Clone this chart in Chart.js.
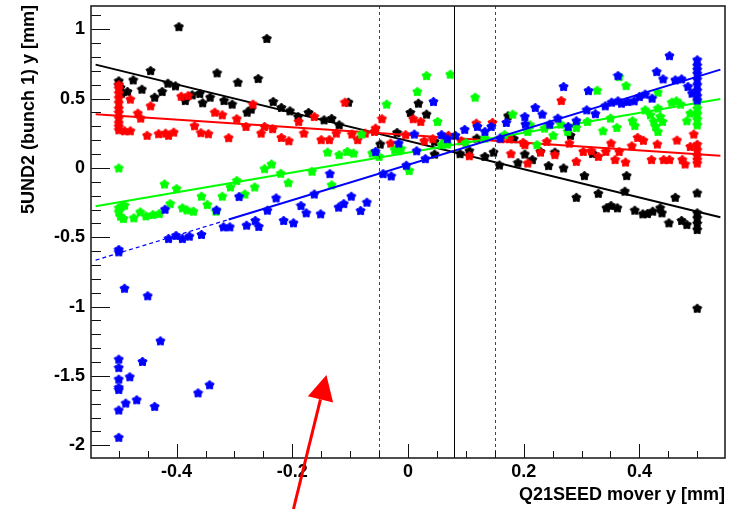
<!DOCTYPE html>
<html>
<head>
<meta charset="utf-8">
<title>Q21SEED mover scan</title>
<script src="https://cdn.jsdelivr.net/npm/chart.js"></script>
<style>
  html, body { margin: 0; padding: 0; background: #fff; }
  canvas { display: block; }
</style>
</head>
<body>
<canvas id="scanChart" width="731" height="509"></canvas>
<script>
// axes
const xRange = [-0.548, 0.548];
const yRange = [-2.092, 1.168];
const xTickValues = [-0.4, -0.2, 0, 0.2, 0.4];
const xTickLabels = ['-0.4', '-0.2', '0', '0.2', '0.4'];
const yTickValues = [-2, -1.5, -1, -0.5, 0, 0.5, 1];
const yTickLabels = ['-2', '-1.5', '-1', '-0.5', '0', '0.5', '1'];
const xTitle = 'Q21SEED mover y [mm]';
const yTitle = '5UND2 (bunch 1) y [mm]';

// mover window (outer) and nominal position (middle)
const cutLines = [-0.05, 0.08, 0.15];

// measured positions [mover y, bpm y]
const blackPts = [
  [-0.5,0.628],[-0.5,0.599],[-0.497,0.58],[-0.495,0.539],[-0.485,0.551],[-0.475,0.635],[-0.46,0.568],
  [-0.445,0.702],[-0.438,0.51],[-0.425,0.551],[-0.415,0.611],[-0.402,0.592],[-0.396,1.019],[-0.385,0.486],
  [-0.373,0.527],[-0.36,0.537],[-0.355,0.47],[-0.342,0.51],[-0.33,0.686],[-0.318,0.486],[-0.304,0.46],
  [-0.294,0.618],[-0.278,0.402],[-0.271,0.424],[-0.259,0.645],[-0.244,0.934],[-0.233,0.479],[-0.219,0.436],
  [-0.204,0.412],[-0.19,0.371],[-0.172,0.4],[-0.145,0.347],[-0.132,0.357],[-0.119,0.311],[-0.103,0.474],
  [-0.048,0.172],[-0.019,0.256],[0.004,0.4],[0.018,0.467],[0.032,0.388],[0.046,0.191],[0.046,0.1],
  [0.09,0.103],[0.106,0.124],[0.119,0.215],[0.133,0.083],[0.148,0.114],[0.158,0.021],[0.173,0.376],
  [0.183,0.211],[0.19,0.038],[0.202,0.1],[0.215,0.06],[0.229,0.119],[0.243,0.017],[0.254,0.114],
  [0.269,0.0],[0.281,0.235],[0.291,-0.212],[0.305,-0.055],[0.319,0.105],[0.329,-0.183],[0.343,-0.288],
  [0.351,-0.271],[0.362,-0.288],[0.375,-0.168],[0.378,-0.055],[0.392,-0.305],[0.406,-0.331],[0.414,-0.329],
  [0.423,-0.312],[0.436,-0.288],[0.439,-0.324],[0.451,-0.396],[0.462,-0.212],[0.473,-0.379],[0.482,-0.408],
  [0.5,-0.18],[0.5,-0.324],[0.5,-0.36],[0.5,-0.4],[0.5,-0.444],[0.5,-1.012]
];
const redPts = [
  [-0.5,0.6],[-0.5,0.575],[-0.5,0.54],[-0.5,0.505],[-0.5,0.47],[-0.5,0.43],[-0.5,0.4],[-0.5,0.36],
  [-0.5,0.325],[-0.5,0.3],[-0.5,0.275],[-0.49,0.268],[-0.48,0.268],[-0.48,0.496],[-0.467,0.395],
  [-0.462,0.359],[-0.451,0.235],[-0.445,0.448],[-0.431,0.247],[-0.419,0.251],[-0.414,0.235],[-0.405,0.258],
  [-0.392,0.517],[-0.38,0.522],[-0.369,0.304],[-0.358,0.254],[-0.345,0.247],[-0.334,0.402],[-0.321,0.383],
  [-0.31,0.218],[-0.296,0.355],[-0.28,0.299],[-0.268,0.46],[-0.254,0.251],[-0.248,0.299],[-0.234,0.283],
  [-0.219,0.22],[-0.206,0.196],[-0.189,0.335],[-0.18,0.251],[-0.162,0.371],[-0.15,0.204],[-0.136,0.204],
  [-0.124,0.251],[-0.109,0.474],[-0.097,0.244],[-0.087,0.204],[-0.074,0.251],[-0.058,0.263],[-0.056,0.287],
  [-0.045,0.355],[-0.03,0.179],[-0.004,0.24],[0.009,0.355],[0.022,0.335],[0.028,0.196],[0.043,0.211],
  [0.064,0.208],[0.07,0.235],[0.092,0.196],[0.106,0.088],[0.118,0.323],[0.146,0.328],[0.161,0.211],
  [0.175,0.211],[0.178,0.103],[0.199,0.184],[0.202,0.168],[0.207,0.035],[0.229,0.114],[0.24,0.191],
  [0.254,0.096],[0.265,0.486],[0.279,0.179],[0.291,0.047],[0.303,0.119],[0.317,0.124],[0.329,0.083],
  [0.342,0.119],[0.351,0.179],[0.358,0.06],[0.365,0.119],[0.376,0.042],[0.387,0.16],[0.397,0.22],
  [0.407,0.199],[0.421,0.06],[0.431,0.172],[0.442,0.06],[0.452,0.06],[0.465,0.201],[0.474,0.06],
  [0.479,0.028],[0.488,0.155],[0.494,0.244],[0.5,0.17],[0.5,0.13],[0.5,0.09],[0.5,0.06],[0.5,0.035]
];
const greenPts = [
  [-0.5,0.0],[-0.5,-0.288],[-0.495,-0.276],[-0.49,-0.269],[-0.5,-0.317],[-0.497,-0.348],[-0.492,-0.365],
  [-0.474,-0.36],[-0.463,-0.317],[-0.453,-0.346],[-0.441,-0.336],[-0.43,-0.329],[-0.421,-0.116],[-0.411,-0.257],
  [-0.4,-0.149],[-0.39,-0.288],[-0.382,-0.303],[-0.371,-0.312],[-0.357,-0.204],[-0.347,-0.264],[-0.332,-0.312],
  [-0.321,-0.204],[-0.307,-0.137],[-0.296,-0.091],[-0.282,-0.188],[-0.265,-0.137],[-0.248,-0.005],[-0.236,0.028],
  [-0.22,-0.039],[-0.207,-0.106],[-0.166,-0.024],[-0.139,0.114],[-0.132,-0.122],[-0.119,0.096],[-0.105,0.119],
  [-0.094,0.107],[-0.08,0.244],[-0.062,0.107],[-0.05,0.083],[-0.037,0.46],[-0.023,0.132],[-0.016,0.124],
  [-0.012,0.139],[0.002,-0.019],[0.016,0.551],[0.032,0.666],[0.051,0.335],[0.058,0.168],[0.064,0.191],
  [0.068,0.172],[0.073,0.676],[0.1,0.182],[0.116,0.51],[0.133,0.215],[0.167,0.24],[0.181,0.388],
  [0.207,0.263],[0.211,0.311],[0.223,0.168],[0.236,0.287],[0.251,0.235],[0.264,0.316],[0.276,0.263],
  [0.291,0.292],[0.31,0.335],[0.327,0.56],[0.337,0.268],[0.35,0.359],[0.361,0.292],[0.365,0.659],
  [0.377,0.594],[0.388,0.34],[0.392,0.306],[0.41,0.419],[0.419,0.383],[0.425,0.335],[0.428,0.299],
  [0.432,0.263],[0.436,0.371],[0.44,0.335],[0.432,0.431],[0.432,0.546],[0.456,0.474],[0.464,0.484],
  [0.471,0.46],[0.482,0.34],[0.488,0.395],[0.5,0.48],[0.5,0.43],[0.5,0.39],[0.5,0.35],[0.5,0.31]
];
const bluePts = [
  [-0.49,-0.868],[-0.45,-0.922],[-0.428,-1.247],[-0.5,-1.379],[-0.5,-1.44],[-0.5,-1.523],[-0.5,-1.583],
  [-0.5,-1.598],[-0.5,-1.746],[-0.5,-1.943],[-0.459,-1.396],[-0.481,-1.506],[-0.469,-1.672],[-0.488,-1.696],
  [-0.438,-1.72],[-0.363,-1.622],[-0.343,-1.564],[-0.5,-0.588],[-0.5,-0.605],[-0.414,-0.509],[-0.401,-0.487],
  [-0.39,-0.509],[-0.378,-0.492],[-0.357,-0.48],[-0.42,-0.298],[-0.331,-0.303],[-0.319,-0.425],[-0.308,-0.425],
  [-0.292,-0.206],[-0.279,-0.413],[-0.264,-0.379],[-0.258,-0.422],[-0.243,-0.305],[-0.228,-0.216],[-0.215,-0.379],
  [-0.198,-0.396],[-0.185,-0.271],[-0.176,-0.324],[-0.162,-0.188],[-0.151,-0.331],[-0.135,-0.041],[-0.12,-0.283],
  [-0.111,-0.257],[-0.098,-0.204],[-0.082,-0.307],[-0.071,-0.247],[-0.056,0.119],[-0.043,-0.041],[-0.029,-0.058],
  [-0.016,0.179],[-0.003,0.019],[0.011,0.244],[0.015,0.124],[0.03,0.067],[0.044,0.479],[0.058,0.24],
  [0.068,0.211],[0.082,0.235],[0.098,0.278],[0.12,0.299],[0.133,0.263],[0.144,0.299],[0.159,0.215],
  [0.17,0.328],[0.202,0.371],[0.203,0.316],[0.22,0.436],[0.232,0.388],[0.245,0.316],[0.259,0.359],
  [0.269,0.587],[0.277,0.299],[0.291,0.34],[0.309,0.419],[0.312,0.558],[0.324,0.391],[0.341,0.448],
  [0.352,0.474],[0.363,0.484],[0.369,0.467],[0.363,0.666],[0.38,0.479],[0.391,0.484],[0.4,0.515],
  [0.41,0.532],[0.422,0.503],[0.43,0.695],[0.441,0.642],[0.452,0.81],[0.462,0.635],[0.473,0.642],
  [0.484,0.587],[0.491,0.539],[0.5,0.78],[0.5,0.74],[0.5,0.71],[0.5,0.68],[0.5,0.64],[0.5,0.6],
  [0.5,0.56],[0.5,0.52],[0.5,0.49]
];

// straight-line fits, end points
const blackFit = [[-0.54, 0.745], [0.54, -0.355]];
const redFit = [[-0.54, 0.387], [0.54, 0.088]];
const greenFit = [[-0.54, -0.277], [0.54, 0.497]];
const blueFitExtrap = [[-0.54, -0.665], [-0.31, -0.372]];
const blueFit = [[-0.31, -0.372], [0.54, 0.709]];

// annotation arrow, tail -> tip
const arrowFrom = [-0.198, -2.46];
const arrowTo = [-0.141, -1.494];

const FONT = 'Liberation Sans, Arial, Helvetica, sans-serif';

// filled ROOT-like star marker
function starMarker(color) {
  const c = document.createElement('canvas');
  c.width = 11; c.height = 11;
  const g = c.getContext('2d');
  g.fillStyle = color;
  g.strokeStyle = color;
  g.lineWidth = 1;
  g.beginPath();
  for (let i = 0; i < 10; i++) {
    const r = i % 2 ? 3.3 : 4.8;
    const a = -Math.PI / 2 + i * Math.PI / 5;
    const px = 5.5 + r * Math.cos(a), py = 5.8 + r * Math.sin(a);
    if (i) g.lineTo(px, py); else g.moveTo(px, py);
  }
  g.closePath();
  g.fill();
  g.stroke();
  return c;
}

const toXY = arr => arr.map(p => ({ x: p[0], y: p[1] }));

function pointSet(pts, color, order) {
  return {
    data: toXY(pts),
    pointStyle: starMarker(color),
    pointRadius: 5,
    showLine: false,
    order: order
  };
}

function fitSet(pts, color, order, dashed) {
  return {
    data: toXY(pts),
    showLine: true,
    borderColor: color,
    borderWidth: dashed ? 1.2 : 2,
    borderDash: dashed ? [4, 3] : [],
    pointRadius: 0,
    order: order
  };
}

// frame, inner ticks, mover lines, arrow and axis titles, drawn ROOT style
const rootFrame = {
  id: 'rootFrame',
  afterDatasetsDraw(chart) {
    const { ctx, chartArea: a, scales: { x, y } } = chart;
    ctx.save();

    cutLines.forEach((v, i) => {
      const px = Math.round(x.getPixelForValue(v)) + 0.5;
      ctx.beginPath();
      ctx.lineWidth = 1;
      ctx.strokeStyle = i === 1 ? '#000' : '#444';
      ctx.setLineDash(i === 1 ? [] : [3, 3]);
      ctx.moveTo(px, a.top);
      ctx.lineTo(px, a.bottom);
      ctx.stroke();
    });
    ctx.setLineDash([]);

    ctx.strokeStyle = '#111';
    ctx.lineWidth = 1;
    ctx.beginPath();
    for (let k = -10; k <= 10; k++) {
      const px = Math.round(x.getPixelForValue(k * 0.05)) + 0.5;
      const len = k % 4 === 0 ? 14 : 7;
      ctx.moveTo(px, a.bottom);
      ctx.lineTo(px, a.bottom - len);
    }
    for (let k = -20; k <= 11; k++) {
      const py = Math.round(y.getPixelForValue(k * 0.1)) + 0.5;
      const len = k % 5 === 0 ? 19 : 10;
      ctx.moveTo(a.left, py);
      ctx.lineTo(a.left + len, py);
    }
    ctx.stroke();

    ctx.lineWidth = 1.6;
    ctx.strokeStyle = '#222';
    ctx.strokeRect(a.left, a.top, a.right - a.left, a.bottom - a.top);
    ctx.restore();
  },
  afterDraw(chart) {
    const { ctx, chartArea: a, scales: { x, y } } = chart;
    ctx.save();

    // red arrow
    const p0 = [x.getPixelForValue(arrowFrom[0]), y.getPixelForValue(arrowFrom[1])];
    const p1 = [x.getPixelForValue(arrowTo[0]), y.getPixelForValue(arrowTo[1])];
    const ang = Math.atan2(p1[1] - p0[1], p1[0] - p0[0]);
    const headLen = 25, headHalf = 13;
    const bx = p1[0] - headLen * Math.cos(ang);
    const by = p1[1] - headLen * Math.sin(ang);
    ctx.strokeStyle = '#ff0000';
    ctx.fillStyle = '#ff0000';
    ctx.lineWidth = 3;
    ctx.beginPath();
    ctx.moveTo(p0[0], p0[1]);
    ctx.lineTo(bx, by);
    ctx.stroke();
    ctx.beginPath();
    ctx.moveTo(p1[0], p1[1]);
    ctx.lineTo(bx + headHalf * Math.sin(ang), by - headHalf * Math.cos(ang));
    ctx.lineTo(bx - headHalf * Math.sin(ang), by + headHalf * Math.cos(ang));
    ctx.closePath();
    ctx.fill();

    // axis titles
    ctx.fillStyle = '#000';
    ctx.font = 'bold 18px ' + FONT;
    ctx.textAlign = 'right';
    ctx.textBaseline = 'alphabetic';
    ctx.fillText(xTitle, a.right, 500);

    ctx.translate(29, a.top - 1);
    ctx.rotate(-Math.PI / 2);
    ctx.textBaseline = 'middle';
    ctx.fillText(yTitle, 0, 0);
    ctx.restore();
  }
};

const tickFont = { family: FONT, size: 18, weight: 'bold' };

new Chart(document.getElementById('scanChart'), {
  type: 'scatter',
  data: {
    datasets: [
      pointSet(blackPts, '#000000', 8),
      fitSet(blackFit, '#000000', 7, false),
      pointSet(redPts, '#ff0000', 6),
      fitSet(redFit, '#ff0000', 5, false),
      pointSet(greenPts, '#00ff00', 4),
      fitSet(greenFit, '#00ff00', 3, false),
      pointSet(bluePts, '#0000ff', 2),
      fitSet(blueFitExtrap, '#0000ff', 1, true),
      fitSet(blueFit, '#0000ff', 1, false)
    ]
  },
  options: {
    responsive: false,
    animation: false,
    events: [],
    layout: { padding: { top: 5, right: 3, left: 0, bottom: 0 } },
    plugins: { legend: { display: false }, tooltip: { enabled: false } },
    scales: {
      x: {
        type: 'linear',
        min: xRange[0],
        max: xRange[1],
        afterBuildTicks: s => { s.ticks = xTickValues.map(v => ({ value: v })); },
        afterFit: s => { s.height = 51; s.paddingLeft = 0; s.paddingRight = 0; },
        grid: { display: false, drawTicks: false },
        border: { display: false },
        ticks: {
          callback: v => xTickLabels[xTickValues.indexOf(v)],
          font: tickFont, color: '#000', padding: 3, maxRotation: 0, autoSkip: false
        }
      },
      y: {
        type: 'linear',
        min: yRange[0],
        max: yRange[1],
        afterBuildTicks: s => { s.ticks = yTickValues.map(v => ({ value: v })); },
        afterFit: s => { s.width = 91; s.paddingTop = 0; s.paddingBottom = 0; },
        grid: { display: false, drawTicks: false },
        border: { display: false },
        ticks: {
          callback: v => yTickLabels[yTickValues.indexOf(v)],
          font: tickFont, color: '#000', padding: 6, autoSkip: false
        }
      }
    }
  },
  plugins: [rootFrame]
});
</script>
</body>
</html>
